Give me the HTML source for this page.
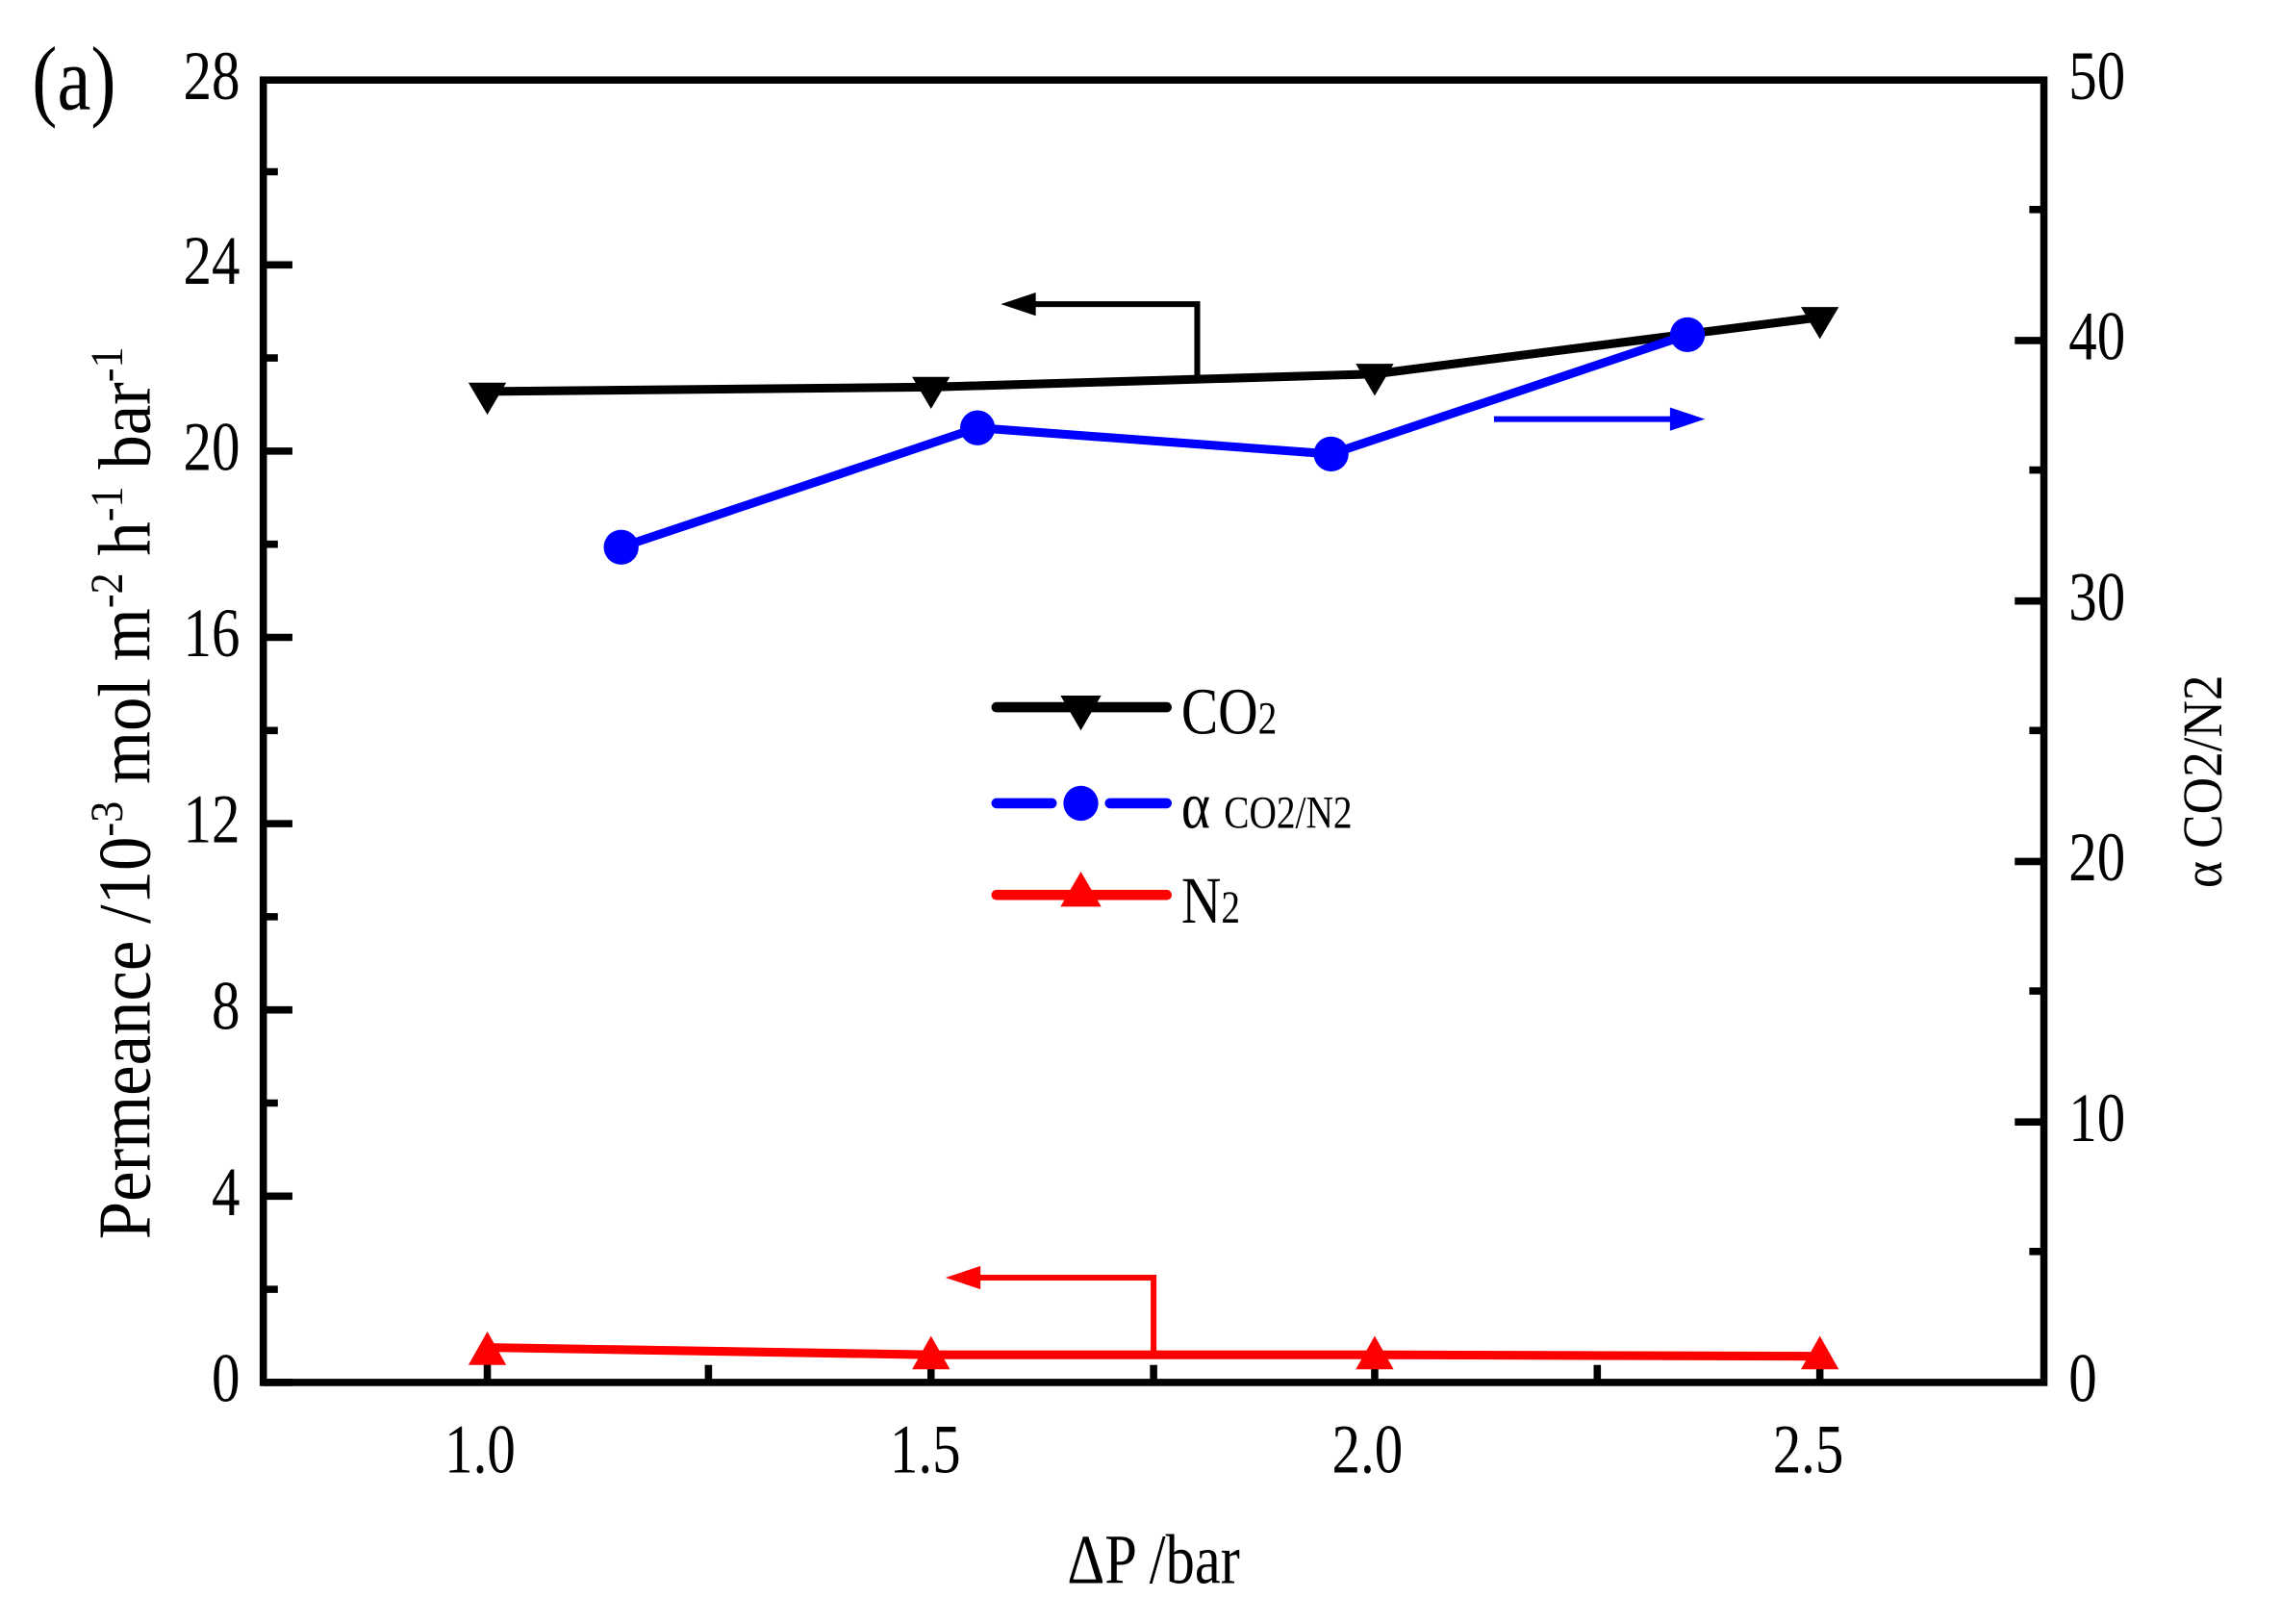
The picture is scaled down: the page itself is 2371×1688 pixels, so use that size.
<!DOCTYPE html>
<html><head><style>html,body{margin:0;padding:0;background:#fff}svg{display:block}</style></head>
<body>
<svg width="2371" height="1688" viewBox="0 0 1568 1116" preserveAspectRatio="none" xmlns="http://www.w3.org/2000/svg" font-family="Liberation Serif, serif">
<g stroke="#000" stroke-width="5" fill="none">
<rect x="181" y="55" width="1224" height="895"/>
<path d="M181 950h20M181 822h20M181 694h20M181 566h20M181 438h20M181 310h20M181 182h20"/>
<path d="M181 886h10M181 758h10M181 630h10M181 502h10M181 374h10M181 246h10M181 118h10"/>
<path d="M1405 771h-20M1405 592h-20M1405 413h-20M1405 234h-20"/>
<path d="M1405 860h-10M1405 681h-10M1405 502h-10M1405 323h-10M1405 144h-10"/>
<path d="M335 950v-20M640 950v-20M945 950v-20M1251 950v-20"/>
<path d="M487 950v-12M793 950v-12M1098 950v-12"/>
</g>
<g font-size="39" fill="#000">
<g text-anchor="end">
<text x="165" y="963" transform="translate(165,963) scale(1,1.22) translate(-165,-963)">0</text>
<text x="165" y="835" transform="translate(165,835) scale(1,1.22) translate(-165,-835)">4</text>
<text x="165" y="707" transform="translate(165,707) scale(1,1.22) translate(-165,-707)">8</text>
<text x="165" y="579" transform="translate(165,579) scale(1,1.22) translate(-165,-579)">12</text>
<text x="165" y="451" transform="translate(165,451) scale(1,1.22) translate(-165,-451)">16</text>
<text x="165" y="323" transform="translate(165,323) scale(1,1.22) translate(-165,-323)">20</text>
<text x="165" y="195" transform="translate(165,195) scale(1,1.22) translate(-165,-195)">24</text>
<text x="165" y="68" transform="translate(165,68) scale(1,1.22) translate(-165,-68)">28</text>
</g>
<text x="1422" y="963" transform="translate(1422,963) scale(1,1.22) translate(-1422,-963)">0</text>
<text x="1422" y="784" transform="translate(1422,784) scale(1,1.22) translate(-1422,-784)">10</text>
<text x="1422" y="605" transform="translate(1422,605) scale(1,1.22) translate(-1422,-605)">20</text>
<text x="1422" y="426" transform="translate(1422,426) scale(1,1.22) translate(-1422,-426)">30</text>
<text x="1422" y="247" transform="translate(1422,247) scale(1,1.22) translate(-1422,-247)">40</text>
<text x="1422" y="68" transform="translate(1422,68) scale(1,1.22) translate(-1422,-68)">50</text>
<g text-anchor="middle">
<text x="330" y="1012" transform="translate(330,1012) scale(1,1.22) translate(-330,-1012)">1.0</text>
<text x="636" y="1012" transform="translate(636,1012) scale(1,1.22) translate(-636,-1012)">1.5</text>
<text x="940" y="1012" transform="translate(940,1012) scale(1,1.22) translate(-940,-1012)">2.0</text>
<text x="1243" y="1012" transform="translate(1243,1012) scale(1,1.22) translate(-1243,-1012)">2.5</text>
</g>
<text x="793" y="1088" text-anchor="middle" font-size="40" transform="translate(793,1088) scale(1,1.2) translate(-793,-1088)">ΔP /bar</text>
<text x="22" y="75" font-size="52" transform="translate(22,75) scale(1,1.2) translate(-22,-75)">(a)</text>
<text transform="translate(103,545) rotate(-90) scale(1.17,1.27)" text-anchor="middle" font-size="40">Permeance /10<tspan font-size="25" dy="-15">-3</tspan><tspan dy="15"> mol m</tspan><tspan font-size="25" dy="-15">-2</tspan><tspan dy="15"> h</tspan><tspan font-size="25" dy="-15">-1</tspan><tspan dy="15"> bar</tspan><tspan font-size="25" dy="-15">-1</tspan></text>
<text transform="translate(1527,537) rotate(-90) scale(1.1,1.2)" text-anchor="middle" font-size="32">α CO2/N2</text>
</g>
<g stroke-width="6" fill="none" stroke-linejoin="round">
<polyline stroke="#000" points="335,269 640,266 945,257 1251,218"/>
<polyline stroke="#0000ff" points="427,376 672,294 915,312 1160,230"/>
<polyline stroke="#ff0000" points="335,926 640,931 945,931 1251,932"/>
</g>
<g fill="#000">
<path d="M322 263h26l-13 22z"/><path d="M627 259h26l-13 22z"/><path d="M932 250h26l-13 22z"/><path d="M1238 211h26l-13 22z"/>
</g>
<g fill="#0000ff">
<circle cx="427" cy="376" r="12"/><circle cx="672" cy="294" r="12"/><circle cx="915" cy="312" r="12"/><circle cx="1160" cy="230" r="12"/>
</g>
<g fill="#ff0000">
<path d="M322 938h26l-13 -23z"/><path d="M627 941h26l-13 -23z"/><path d="M932 941h26l-13 -23z"/><path d="M1238 941h26l-13 -23z"/>
</g>
<g stroke-width="4" fill="none">
<path stroke="#000" d="M823 258V209H700"/>
<path stroke="#0000ff" d="M1027 288H1160"/>
<path stroke="#ff0000" d="M793 930V878H662"/>
</g>
<path d="M688 209l24 -8v16z" fill="#000"/>
<path d="M1172 288l-24 -8v16z" fill="#0000ff"/>
<path d="M650 878l24 -8v16z" fill="#ff0000"/>
<g stroke-width="7" stroke-linecap="round">
<path stroke="#000" d="M685 486H802"/>
<path stroke="#0000ff" d="M685 552H723M763 552H802"/>
<path stroke="#ff0000" d="M685 615H802"/>
</g>
<path d="M729 478h28l-14 24z" fill="#000"/>
<circle cx="743" cy="552" r="12" fill="#0000ff"/>
<path d="M729 623h28l-14 -24z" fill="#ff0000"/>
<g font-size="38" fill="#000">
<text x="812" y="504" transform="translate(812,504) scale(1,1.2) translate(-812,-504)">CO<tspan font-size="26">2</tspan></text>
<text x="812" y="569" transform="translate(812,569) scale(1,1.2) translate(-812,-569)">α <tspan font-size="26">CO2/N2</tspan></text>
<text x="812" y="634" transform="translate(812,634) scale(1,1.2) translate(-812,-634)">N<tspan font-size="26">2</tspan></text>
</g>
</svg>
</body></html>
